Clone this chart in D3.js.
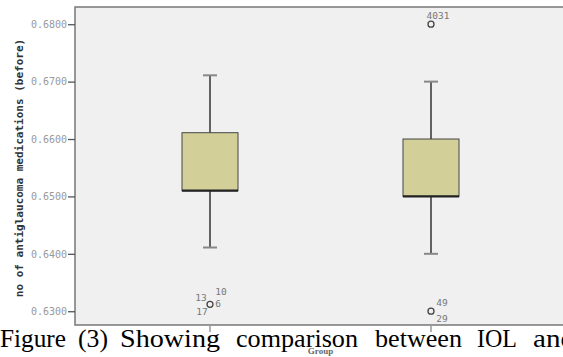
<!DOCTYPE html>
<html>
<head>
<meta charset="utf-8">
<script src="https://cdn.jsdelivr.net/npm/d3@7"></script>
<style>
  html, body { margin: 0; padding: 0; background: #fff; overflow: hidden; }
  svg { display: block; }
</style>
</head>
<body>
<svg id="chart" width="563" height="357"></svg>
<script>
// data
const groups = ['1', '2'];
const whiskerLow = [0.6411, 0.6400];
const q1 = [0.6510, 0.6500];
const median = [0.6510, 0.6500];
const q3 = [0.6611, 0.6600];
const whiskerHigh = [0.6711, 0.6700];
const outlierGroup = ['1', '2', '2'];
const outlierValue = [0.6312, 0.6300, 0.6800];
const outlierLabels = [
  [{ t: '13', dx: -9, dy: -6 }, { t: '10', dx: 11, dy: -12 }, { t: '6', dx: 8, dy: 0 }, { t: '17', dx: -8, dy: 8 }],
  [{ t: '49', dx: 11, dy: -8 }, { t: '29', dx: 11, dy: 8 }],
  [{ t: '4031', dx: 7, dy: -8 }]
];
const yTicks = [0.63, 0.64, 0.65, 0.66, 0.67, 0.68];
const captionWords = ['Figure', '(3)', 'Showing', 'comparison', 'between', 'IOL', 'and'];

const svg = d3.select('#chart');
const plot = { left: 75, top: 7, right: 640, bottom: 325 };

const y = d3.scaleLinear().domain([0.6276, 0.6830]).range([plot.bottom, plot.top]);
const x = d3.scalePoint().domain(groups).range([plot.left + 135, plot.left + 356]);
const boxW = 56;

// plot background + frame
svg.append('rect')
  .attr('x', plot.left).attr('y', plot.top)
  .attr('width', plot.right - plot.left).attr('height', plot.bottom - plot.top)
  .attr('fill', '#f0f0f0');
svg.append('path')
  .attr('d', `M${plot.right},${plot.top}H${plot.left}V${plot.bottom}H${plot.right}`)
  .attr('fill', 'none').attr('stroke', '#777').attr('stroke-width', 1.5);

// y axis
const yAxis = svg.append('g')
  .attr('transform', `translate(${plot.left},0)`)
  .call(d3.axisLeft(y).tickValues(yTicks).tickFormat(d3.format('.4f')).tickSize(7).tickSizeOuter(0));
yAxis.select('.domain').remove();
yAxis.selectAll('line').attr('stroke', '#555').attr('stroke-width', 1.3);
yAxis.selectAll('text')
  .attr('fill', '#999').attr('font-family', "'DejaVu Sans Mono', monospace")
  .attr('font-size', '10px').attr('x', -8);

// x axis ticks
svg.append('g')
  .selectAll('line').data(groups).join('line')
  .attr('x1', d => x(d)).attr('x2', d => x(d))
  .attr('y1', plot.bottom + 1).attr('y2', plot.bottom + 7)
  .attr('stroke', '#666').attr('stroke-width', 1);

// boxes and whiskers
const bx = svg.append('g');
groups.forEach((g, i) => {
  const cx = x(g);
  bx.append('line')
    .attr('x1', cx).attr('x2', cx)
    .attr('y1', y(whiskerLow[i])).attr('y2', y(whiskerHigh[i]))
    .attr('stroke', '#333').attr('stroke-width', 1.5);
  [whiskerLow[i], whiskerHigh[i]].forEach(v => {
    bx.append('line')
      .attr('x1', cx - 7).attr('x2', cx + 7)
      .attr('y1', y(v)).attr('y2', y(v))
      .attr('stroke', '#888').attr('stroke-width', 2);
  });
  bx.append('rect')
    .attr('x', cx - boxW / 2).attr('y', y(q3[i]))
    .attr('width', boxW).attr('height', y(q1[i]) - y(q3[i]))
    .attr('fill', '#d3cf98').attr('stroke', '#444').attr('stroke-width', 1);
  bx.append('line')
    .attr('x1', cx - boxW / 2).attr('x2', cx + boxW / 2)
    .attr('y1', y(median[i])).attr('y2', y(median[i]))
    .attr('stroke', '#222').attr('stroke-width', 2.2);
});

// outliers
const oc = svg.append('g');
outlierValue.forEach((v, i) => {
  const px = x(outlierGroup[i]), py = y(v);
  oc.append('circle')
    .attr('cx', px).attr('cy', py).attr('r', 3)
    .attr('fill', 'none').attr('stroke', '#444').attr('stroke-width', 1.3);
  outlierLabels[i].forEach(l => {
    oc.append('text')
      .attr('x', px + l.dx).attr('y', py + l.dy)
      .attr('text-anchor', 'middle').attr('dominant-baseline', 'middle')
      .attr('fill', '#777').attr('font-family', "'DejaVu Sans Mono', monospace")
      .attr('font-size', '9.5px')
      .text(l.t);
  });
});

// y axis title
svg.append('text')
  .attr('transform', `translate(20,168) rotate(-90)`)
  .attr('text-anchor', 'middle').attr('dominant-baseline', 'middle')
  .attr('font-family', "'DejaVu Sans Mono', monospace").attr('font-weight', 'bold')
  .attr('font-size', '11px').attr('fill', '#333')
  .text('no of antiglaucoma medications (before)');

// x axis title
svg.append('text')
  .attr('x', (x('1') + x('2')) / 2).attr('y', 354)
  .attr('text-anchor', 'middle')
  .attr('font-family', "'Liberation Serif', serif").attr('font-weight', 'bold')
  .attr('font-size', '9px').attr('fill', '#666')
  .text('Group');

// justified caption overlapping the bottom of the figure
const wordX = [0, 78, 120, 236, 375, 477, 533];
const wordW = [66, 30, 100, 122, 87, 40, 42];
svg.append('g').selectAll('text').data(captionWords).join('text')
  .attr('x', (d, i) => wordX[i]).attr('y', 347)
  .attr('textLength', (d, i) => wordW[i]).attr('lengthAdjust', 'spacingAndGlyphs')
  .attr('font-family', "'Liberation Serif', 'Times New Roman', serif")
  .attr('font-size', '25px').attr('fill', '#000')
  .text(d => d);
</script>
</body>
</html>
